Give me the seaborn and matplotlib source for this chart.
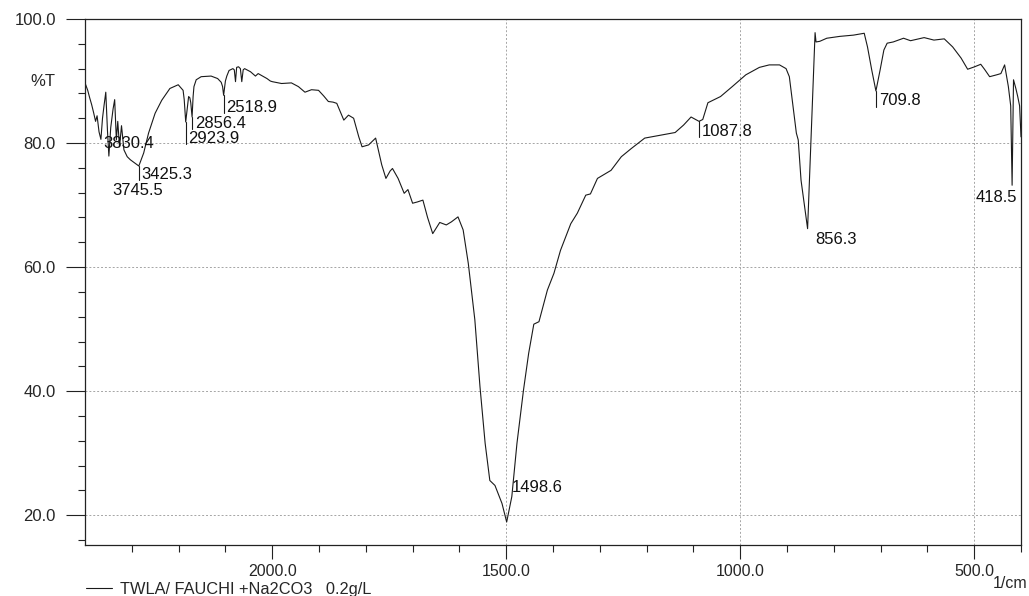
import numpy as np
import pandas as pd
import matplotlib
matplotlib.use("Agg")
import matplotlib.pyplot as plt
import seaborn as sns
from matplotlib.ticker import FixedLocator, FuncFormatter
from matplotlib import transforms

# ---------------- data ----------------
wavenumber = [
    4000, 3971, 3950, 3929, 3908, 3887, 3871, 3850, 3830, 3813, 3797, 3778, 3760, 3745,
    3725, 3712, 3700, 3683, 3665, 3650, 3631, 3610, 3584, 3549, 3515, 3462, 3425, 3373,
    3321, 3251, 3180, 3093, 3004, 2952, 2940, 2924, 2905, 2893, 2880, 2870, 2856, 2845,
    2836, 2812, 2759, 2653, 2583, 2545, 2530, 2519, 2500, 2485, 2461, 2420, 2405, 2392,
    2380, 2360, 2340, 2325, 2310, 2295, 2232, 2179, 2150, 2126, 2056, 2020, 2000,
    1980, 1959, 1944, 1930, 1916, 1901, 1890, 1880, 1870, 1862, 1847, 1837, 1826, 1815,
    1808, 1794, 1779, 1766, 1757, 1748, 1743, 1731, 1718, 1710, 1700, 1690, 1678, 1668,
    1657, 1642, 1628, 1617, 1603, 1592, 1581, 1567, 1556, 1545, 1535, 1524, 1509, 1499,
    1488, 1477, 1463, 1452, 1441, 1430, 1412, 1398, 1384, 1362, 1348, 1330, 1320, 1305,
    1276, 1254, 1233, 1204, 1175, 1139, 1121, 1105, 1088, 1080, 1069, 1042, 1017, 988,
    959, 938, 916, 902, 895, 888, 880, 876, 870, 856, 849, 840, 838, 830, 815, 787, 758,
    735, 728, 719, 710, 701, 693, 686, 673, 651, 636, 607, 586, 564, 546, 528, 514, 499,
    486, 478, 467, 452, 443, 435, 427, 422, 419, 416, 411, 407, 403, 400,
]
transmittance = [
    89.7, 88.5, 87.3, 86.2, 84.9, 83.5, 84.4, 81.8, 80.6, 84.0, 86.0, 88.2, 82.0, 77.9,
    82.5, 84.0, 85.5, 87.0, 80.5, 83.5, 79.4, 82.8, 78.9, 77.8, 77.3, 76.7, 76.3, 78.4,
    81.6, 84.8, 86.9, 88.8, 89.4, 88.5, 87.0, 83.4, 86.0, 87.5, 87.3, 86.5, 84.2, 87.5,
    89.1, 90.2, 90.7, 90.8, 90.4, 89.8, 89.1, 87.7, 90.0, 90.8, 91.7, 92.0, 91.8, 89.9,
    92.2, 92.3, 92.0, 89.9, 91.8, 92.0, 91.5, 90.8, 91.2, 91.0, 90.4, 90.0, 89.9,
    89.6, 89.7, 89.1, 88.2, 88.6, 88.5, 87.6, 86.7, 86.6, 86.4, 83.7, 84.5, 84.0, 81.0,
    79.4, 79.7, 80.8, 76.5, 74.3, 75.5, 75.9, 74.3, 71.9, 72.5, 70.3, 70.5, 70.8, 68.0,
    65.4, 67.2, 66.8, 67.3, 68.1, 66.0, 60.6, 51.5, 40.7, 31.6, 25.6, 24.8, 21.9, 18.9,
    23.0, 31.6, 40.2, 46.1, 50.8, 51.2, 56.3, 59.0, 62.7, 67.0, 68.7, 71.6, 71.8, 74.3,
    75.6, 77.8, 79.1, 80.8, 81.2, 81.7, 82.9, 84.2, 83.5, 83.8, 86.5, 87.5, 89.1, 91.0,
    92.2, 92.6, 92.6, 92.0, 90.7, 86.4, 81.6, 80.5, 74.0, 66.2, 80.0, 97.8, 96.3, 96.4,
    96.9, 97.2, 97.4, 97.7, 95.5, 91.8, 88.4, 91.8, 95.0, 96.1, 96.3, 96.9, 96.5, 97.0,
    96.6, 96.8, 95.5, 93.7, 91.9, 92.3, 92.7, 91.9, 90.7, 91.0, 91.2, 92.6, 89.1, 86.0,
    73.2, 90.2, 88.8, 87.5, 86.0, 81.0,
]
peak_wn = [3830.4, 3745.5, 3425.3, 2923.9, 2856.4, 2518.9, 1498.6, 1087.8, 856.3, 709.8, 418.5]
peak_t = [80.6, 77.9, 76.3, 83.4, 84.2, 87.7, 18.9, 83.5, 66.2, 88.4, 73.2]
peak_labels = ["3830.4", "3745.5", "3425.3", "2923.9", "2856.4", "2518.9",
               "1498.6", "1087.8", "856.3", "709.8", "418.5"]
x_major = [2000, 1500, 1000, 500]
x_minor = [3500, 3000, 2500, 1900, 1800, 1700, 1600, 1400, 1300, 1200, 1100,
           900, 800, 700, 600, 400]
y_major = [20, 40, 60, 80, 100]
y_minor = [16, 24, 28, 32, 36, 44, 48, 52, 56, 64, 68, 72, 76, 84, 88, 92, 96]
series_label = "TWLA/ FAUCHI +Na2CO3   0.2g/L"

# ---------------- layout for peak labels ----------------
label_x = [3830, 3740, 3425, 2924, 2856, 2519, 1495, 1088, 846, 710, 402]
label_y = [80.0, 72.4, 75.0, 80.8, 83.2, 85.8, 24.5, 81.9, 64.4, 86.8, 71.3]
label_ha = ["left"] * 10 + ["right"]
draw_leader = [False, False, True, True, True, True, False, True, False, True, False]

# ---------------- style ----------------
sns.set_style("ticks")
plt.rcParams["font.family"] = ["Liberation Sans", "DejaVu Sans"]

W, H = 1029, 596
fig = plt.figure(figsize=(W / 100, H / 100), dpi=100)
ax = fig.add_axes([85 / W, 1 - 545 / H, 936 / W, 526 / H])


def fwd(x):
    x = np.asarray(x, dtype=float)
    return np.where(x > 2000, 2000 + (x - 2000) / 5.0, x)


def inv(t):
    t = np.asarray(t, dtype=float)
    return np.where(t > 2000, 2000 + (t - 2000) * 5.0, t)


ax.set_xscale("function", functions=(fwd, inv))

df = pd.DataFrame({"wn": wavenumber, "T": transmittance})

# grid
for g in [1500, 1000, 500]:
    ax.axvline(g, color="#a5a5a5", lw=0.7, ls=(0, (2, 2)), zorder=0)
for g in [20, 40, 60, 80]:
    ax.axhline(g, color="#a5a5a5", lw=0.7, ls=(0, (2, 2)), zorder=0)

sns.lineplot(data=df, x="wn", y="T", sort=False, estimator=None, color="#1a1a1a",
             lw=0.8, ax=ax, label=series_label)

ax.set_xlim(4000, 400)
ax.set_ylim(15.2, 100)

ax.xaxis.set_major_locator(FixedLocator(x_major))
ax.xaxis.set_minor_locator(FixedLocator(x_minor))
ax.xaxis.set_major_formatter(FuncFormatter(lambda v, p: f"{v:.1f}"))
ax.yaxis.set_major_locator(FixedLocator(y_major))
ax.yaxis.set_minor_locator(FixedLocator(y_minor))
ax.yaxis.set_major_formatter(FuncFormatter(lambda v, p: f"{v:.1f}"))

ax.tick_params(axis="x", which="major", length=10, width=0.8, pad=4, labelsize=11.5, color="#222")
ax.tick_params(axis="x", which="minor", length=5, width=0.8, color="#222")
ax.tick_params(axis="y", which="major", length=14, width=0.8, pad=7, labelsize=12, color="#222")
ax.tick_params(axis="y", which="minor", length=5, width=0.8, color="#222")
ax.set_xlabel("")
ax.set_ylabel("")
for s in ax.spines.values():
    s.set_visible(True)
    s.set_color("#222")
    s.set_linewidth(0.9)

# peak labels
for wn, tp, lab, lx, ly, ha, lead in zip(peak_wn, peak_t, peak_labels, label_x,
                                         label_y, label_ha, draw_leader):
    if lead:
        ax.plot([wn, wn], [tp, ly - 1.0], color="#1a1a1a", lw=0.8)
    off = 2 if ha == "left" else -2
    ax.annotate(lab, xy=(lx, ly), xytext=(off, 0), textcoords="offset points",
                ha=ha, va="center", fontsize=12, color="#111")

# %T axis title
trans = transforms.blended_transform_factory(ax.transAxes, ax.transData)
ax.text(-30 / 936, 90, "%T", transform=trans, ha="right", va="center", fontsize=12)

# unit label
fig.text(1027 / W, 1 - 584 / H, "1/cm", ha="right", va="center", fontsize=11.5)

# legend bottom-left
ax.legend(loc="center left", bbox_to_anchor=(86 / W, 1 - 589.5 / H),
          bbox_transform=fig.transFigure, frameon=False, handlelength=1.6,
          handletextpad=0.5, borderaxespad=0, borderpad=0, fontsize=11.8)

fig.savefig("out.png", dpi=100, facecolor="white")
